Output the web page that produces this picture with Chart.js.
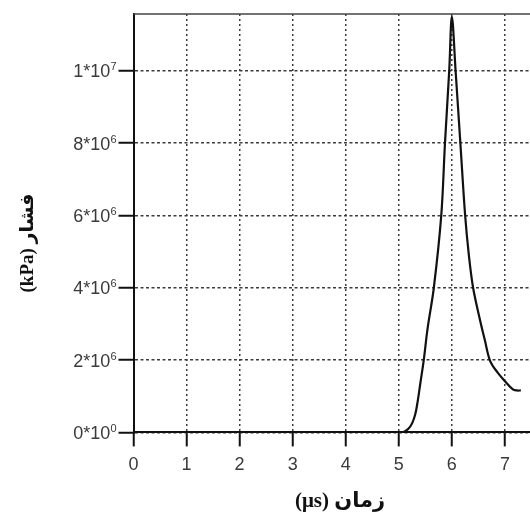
<!DOCTYPE html>
<html>
<head>
<meta charset="utf-8">
<script src="https://cdn.jsdelivr.net/npm/chart.js@4"></script>
<style>
  html, body { margin: 0; padding: 0; background: #fff; overflow: hidden; width: 530px; height: 514px; }
  canvas { display: block; }
</style>
</head>
<body>
<canvas id="pulse" width="566" height="514"></canvas>
<script>
// Pressure pulse: time (µs) against pressure (kPa)
const timeUs = [5.00, 5.10, 5.18, 5.25, 5.31, 5.36, 5.41, 5.47, 5.54, 5.66, 5.80, 5.87, 5.95, 6.00, 6.07, 6.16, 6.25, 6.32, 6.40, 6.53, 6.62, 6.72, 6.86, 7.01, 7.15, 7.22, 7.30];
const pressureKPa = [0, 0.02e6, 0.1e6, 0.25e6, 0.5e6, 0.9e6, 1.4e6, 2.0e6, 2.85e6, 4.0e6, 6.0e6, 8.0e6, 1.0e7, 1.15e7, 1.0e7, 8.0e6, 6.0e6, 4.9e6, 4.0e6, 3.11e6, 2.56e6, 1.98e6, 1.66e6, 1.40e6, 1.19e6, 1.16e6, 1.16e6];

const xTickValues = [0, 1, 2, 3, 4, 5, 6, 7];
const yTickValues = [0, 2e6, 4e6, 6e6, 8e6, 1e7];
const yTickMantissas = ['0', '2', '4', '6', '8', '1'];
const yTickExponents = ['0', '6', '6', '6', '6', '7'];
const xTitle = 'زمان (μs)';
const yTitle = 'فشار (kPa)';

const labelFamily = '"Liberation Sans", Arial, sans-serif';
const labelColor = '#3a3a3a';

// Frame line along the top of the plot area
const topFrame = {
  id: 'topFrame',
  afterDatasetsDraw(chart) {
    const { ctx, chartArea: a } = chart;
    ctx.save();
    ctx.strokeStyle = '#444';
    ctx.lineWidth = 1.5;
    ctx.beginPath();
    ctx.moveTo(a.left, a.top);
    ctx.lineTo(a.right, a.top);
    ctx.stroke();
    ctx.restore();
  }
};

// Y tick labels written as mantissa*10 with a raised exponent
const powerLabels = {
  id: 'powerLabels',
  afterDraw(chart) {
    const { ctx } = chart;
    const y = chart.scales.y;
    const right = y.right - 15 - 2;
    ctx.save();
    ctx.fillStyle = labelColor;
    ctx.textAlign = 'right';
    ctx.textBaseline = 'alphabetic';
    yTickValues.forEach((v, i) => {
      const py = y.getPixelForValue(v);
      ctx.font = '11px ' + labelFamily;
      const expW = ctx.measureText(yTickExponents[i]).width;
      ctx.fillText(yTickExponents[i], right, py - 0.5);
      ctx.font = '18px ' + labelFamily;
      ctx.fillText(yTickMantissas[i] + '*10', right - expW, py + 6.5);
    });
    ctx.restore();
  }
};

// Axis titles, laid out right-to-left
const axisTitles = {
  id: 'axisTitles',
  afterDraw(chart) {
    const ctx = chart.ctx;
    ctx.save();
    ctx.fillStyle = '#111';
    ctx.textAlign = 'center';
    ctx.textBaseline = 'middle';
    ctx.direction = 'rtl';
    ctx.font = 'bold 21px "Liberation Serif", "DejaVu Sans", serif';
    ctx.fillText(xTitle, 340, 502);
    ctx.font = 'bold 19px "Liberation Serif", "DejaVu Sans", serif';
    ctx.translate(28, 243);
    ctx.rotate(-Math.PI / 2);
    ctx.fillText(yTitle, 0, 0);
    ctx.restore();
  }
};

new Chart(document.getElementById('pulse'), {
  type: 'line',
  data: {
    datasets: [{
      data: timeUs.map((t, i) => ({ x: t, y: pressureKPa[i] })),
      borderColor: '#111',
      borderWidth: 2.2,
      pointRadius: 0,
      fill: false,
      tension: 0.35
    }]
  },
  options: {
    responsive: false,
    animation: false,
    events: [],
    layout: { padding: { left: 0, top: 14, right: 8, bottom: 0 } },
    plugins: { legend: { display: false }, tooltip: { enabled: false } },
    scales: {
      x: {
        type: 'linear',
        min: 0,
        max: 8,
        afterBuildTicks: (s) => { s.ticks = xTickValues.map(v => ({ value: v })); },
        afterFit: (s) => { s.height = 81.6; },
        ticks: { font: { family: labelFamily, size: 18 }, color: labelColor, padding: 8, callback: (v) => String(v) },
        grid: { color: '#3c3c3c', lineWidth: 1.5, tickLength: 14, tickWidth: 2, tickColor: '#111' },
        border: { color: '#111', width: 2, dash: [2, 3] }
      },
      y: {
        min: 0,
        max: 1.157e7,
        afterBuildTicks: (s) => { s.ticks = yTickValues.map(v => ({ value: v })); },
        afterFit: (s) => { s.width = 133.5; },
        ticks: { display: false },
        grid: { color: '#3c3c3c', lineWidth: 1.5, tickLength: 15, tickWidth: 2, tickColor: '#111' },
        border: { color: '#111', width: 2, dash: [3, 2.5] }
      }
    }
  },
  plugins: [topFrame, powerLabels, axisTitles]
});
</script>
</body>
</html>
